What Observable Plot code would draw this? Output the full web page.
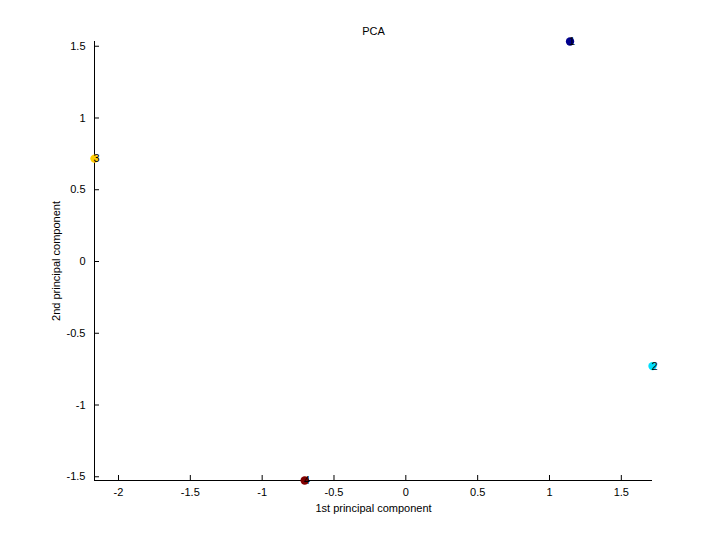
<!DOCTYPE html>
<html><head><meta charset="utf-8">
<script src="https://cdn.jsdelivr.net/npm/d3@7"></script>
<script src="https://cdn.jsdelivr.net/npm/@observablehq/plot@0.6"></script>
<style>body{margin:0;background:#fff;} svg{font-family:"Liberation Sans",Arial,sans-serif;}</style>
</head><body><div id="chart"></div>
<script>
const ids = ["1", "2", "3", "4"];
const pc1 = [1.143, 1.717, -2.167, -0.704];
const pc2 = [1.533, -0.729, 0.717, -1.526];
const pointColors = ["#00008F", "#00DFFF", "#FFCF00", "#800000"];
const xTicks = [-2, -1.5, -1, -0.5, 0, 0.5, 1, 1.5];
const yTicks = [-1.5, -1, -0.5, 0, 0.5, 1, 1.5];
const xDomain = [-2.167, 1.717];
const yDomain = [-1.526, 1.533];

const data = ids.map((id, i) => ({id, x: pc1[i], y: pc2[i]}));
const fmt = d => String(d);

const chart = Plot.plot({
  width: 720,
  height: 540,
  marginLeft: 94,
  marginRight: 68,
  marginTop: 41,
  marginBottom: 60,
  style: {fontSize: "11px", fontFamily: "'Liberation Sans', Arial, sans-serif", color: "#000", background: "#fff"},
  x: {domain: xDomain},
  y: {domain: yDomain},
  color: {domain: ids, range: pointColors},
  marks: [
    Plot.axisX({ticks: xTicks, tickFormat: fmt, tickSize: -5, tickPadding: 13, label: "1st principal component", labelAnchor: "center", labelArrow: "none", labelOffset: 31, fontSize: 11, stroke: "#000"}),
    Plot.axisY({ticks: yTicks, tickFormat: fmt, tickSize: -5, tickPadding: 14, label: "2nd principal component", labelAnchor: "center", labelArrow: "none", labelOffset: 42, fontSize: 11, stroke: "#000"}),
    Plot.ruleY([yDomain[0]], {stroke: "#000"}),
    Plot.ruleX([xDomain[0]], {stroke: "#000"}),
    Plot.dot(data, {x: "x", y: "y", fill: "id", r: 4.2, stroke: null}),
    Plot.text(data, {x: "x", y: "y", text: "id", textAnchor: "start", dx: -1, fontSize: 11, fill: "#000"}),
    Plot.text(["PCA"], {frameAnchor: "top", dy: -14, fontSize: 11, fill: "#000"})
  ]
});
document.getElementById("chart").appendChild(chart);
</script></body></html>
